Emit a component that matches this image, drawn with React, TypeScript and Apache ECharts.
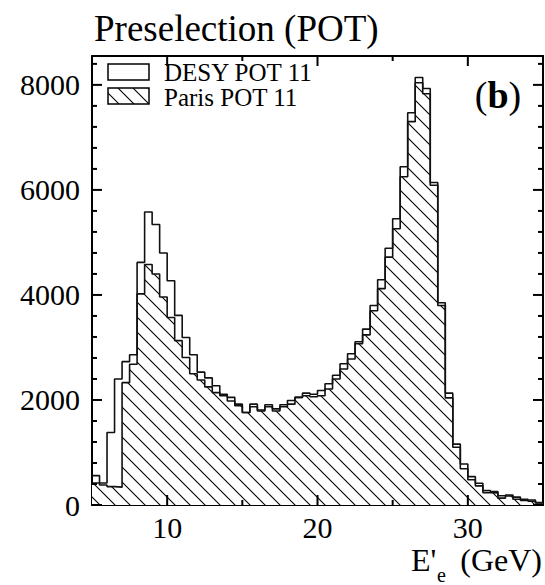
import React, { useEffect, useRef } from "react";
import * as echarts from "echarts";

const BIN_START = 5;
const BIN_WIDTH = 0.5;
const X_MIN = 5;
const X_MAX = 35;
const Y_MIN = 0;
const Y_MAX = 8550;

const desyCounts = [
  560, 420, 1380, 2400, 2730, 2860, 4620, 5580, 5340, 4800,
  4270, 3610, 3190, 2860, 2530, 2420, 2270, 2110, 2050, 1920,
  1760, 1920, 1810, 1910, 1830, 1910, 1990, 2050, 2130, 2110,
  2180, 2310, 2470, 2690, 2880, 3110, 3350, 3800, 4290, 4890,
  5450, 6440, 7470, 8140, 7930, 6140, 3850, 2130, 1160, 780,
  540, 415, 275, 255, 175, 190, 150, 110, 95, 45,
];

const parisCounts = [
  420, 380, 350, 340, 2330, 2680, 4020, 4580, 4400, 3960,
  3570, 3130, 2810, 2500, 2380, 2250, 2140, 2080, 1980, 1890,
  1760, 1870, 1790, 1870, 1790, 1870, 1920, 2050, 2080, 2060,
  2080, 2210, 2400, 2590, 2780, 3070, 3240, 3700, 4120, 4720,
  5260, 6250, 7300, 8040, 7830, 6090, 3800, 2040, 1100, 690,
  480, 365, 236, 230, 130, 172, 110, 85, 70, 40,
];

const xLabelTicks = [10, 20, 30];
const xMinorTicks = [15, 25];
const yLabelTicks = [0, 2000, 4000, 6000, 8000];
const yMinorTicks = [400, 800, 1200, 1600, 2400, 2800, 3200, 3600, 4400, 4800, 5200, 5600, 6400, 6800, 7200, 7600, 8400];
const Y_LABEL_STEP = 2000;
const seriesNames = ["DESY POT 11", "Paris POT 11"];
const titleText = "Preselection (POT)";
const panelLabel = "b";

const FONT = "Liberation Serif";
const MAJOR_LEN = 10;
const MINOR_LEN = 5;

function stepPoints(counts: number[]) {
  const pts: number[][] = [];
  counts.forEach((v, i) => {
    const x0 = BIN_START + i * BIN_WIDTH;
    pts.push([x0, v], [x0 + BIN_WIDTH, v]);
  });
  return pts;
}

function makeHatch() {
  const s = 15;
  const c = document.createElement("canvas");
  c.width = s;
  c.height = s;
  const ctx = c.getContext("2d")!;
  ctx.fillStyle = "#fff";
  ctx.fillRect(0, 0, s, s);
  ctx.strokeStyle = "#000";
  ctx.lineWidth = 1.1;
  ctx.beginPath();
  for (const k of [-1, 0, 1]) {
    ctx.moveTo(-2, -2 + k * s);
    ctx.lineTo(s + 2, s + 2 + k * s);
  }
  ctx.stroke();
  return { image: c, repeat: "repeat", imageWidth: s, imageHeight: s } as any;
}

export default function App() {
  const ref = useRef<HTMLDivElement>(null);
  useEffect(() => {
    if (!ref.current) return;
    const chart = echarts.init(ref.current, undefined, { renderer: "svg" });
    const hatch = makeHatch();
    const hatch2 = makeHatch();

    const lineStyle = { color: "#000", width: 2 };

    const xBase = {
      type: "value",
      min: X_MIN,
      max: X_MAX,
      axisLine: { show: true, onZero: false, lineStyle },
      axisTick: { show: false },
      splitLine: { show: false },
    };
    const yBase = {
      type: "value",
      min: Y_MIN,
      max: Y_MAX,
      interval: Y_LABEL_STEP,
      axisLine: { show: true, onZero: false, lineStyle },
      axisTick: { show: false },
      splitLine: { show: false },
    };

    const xTickData = [
      ...xLabelTicks.map((v) => [v, Y_MIN, MAJOR_LEN]),
      ...xMinorTicks.map((v) => [v, Y_MIN, MINOR_LEN]),
    ];
    const yTickData = [
      ...yLabelTicks.map((v) => [X_MIN, v, MAJOR_LEN]),
      ...yMinorTicks.map((v) => [X_MIN, v, MINOR_LEN]),
    ];

    const tickEl = (x1: number, y1: number, x2: number, y2: number) => ({
      type: "line",
      shape: { x1, y1, x2, y2 },
      style: { stroke: "#000", lineWidth: 2 },
    });

    chart.setOption({
      animation: false,
      backgroundColor: "#fff",
      grid: {
        show: false,
        left: 92,
        right: 2,
        top: 56,
        bottom: 80,
      },
      xAxis: [
        {
          ...xBase,
          position: "bottom",
          axisLabel: {
            customValues: xLabelTicks,
            color: "#000",
            fontFamily: FONT,
            fontSize: 30,
            margin: 7,
          },
        },
        {
          ...xBase,
          position: "top",
          axisLabel: { show: false },
        },
      ],
      yAxis: [
        {
          ...yBase,
          position: "left",
          axisLabel: {
            formatter: (v: number) => (v % Y_LABEL_STEP === 0 ? String(v) : ""),
            color: "#000",
            fontFamily: FONT,
            fontSize: 30,
            margin: 12,
          },
        },
        {
          ...yBase,
          position: "right",
          axisLabel: { show: false },
        },
      ],
      series: [
        {
          name: seriesNames[1],
          type: "line",
          xAxisIndex: 0,
          yAxisIndex: 0,
          data: stepPoints(parisCounts),
          showSymbol: false,
          symbol: "none",
          lineStyle: { color: "#111", width: 1.6 },
          areaStyle: { color: hatch, opacity: 1 },
          z: 2,
        },
        {
          name: seriesNames[0],
          type: "line",
          xAxisIndex: 0,
          yAxisIndex: 0,
          data: stepPoints(desyCounts),
          showSymbol: false,
          symbol: "none",
          lineStyle: { color: "#111", width: 1.6 },
          z: 3,
        },
        {
          name: "xTicks",
          type: "custom",
          coordinateSystem: "cartesian2d",
          xAxisIndex: 0,
          yAxisIndex: 0,
          clip: false,
          silent: true,
          z: 20,
          encode: { x: 0, y: 1 },
          data: xTickData,
          renderItem: (params: any, api: any) => {
            const x = api.value(0);
            const len = api.value(2);
            const pb = api.coord([x, Y_MIN]);
            const pt = api.coord([x, Y_MAX]);
            return {
              type: "group",
              children: [
                tickEl(pb[0], pb[1], pb[0], pb[1] - len),
                tickEl(pt[0], pt[1], pt[0], pt[1] + len),
              ],
            };
          },
        },
        {
          name: "yTicks",
          type: "custom",
          coordinateSystem: "cartesian2d",
          xAxisIndex: 0,
          yAxisIndex: 0,
          clip: false,
          silent: true,
          z: 20,
          encode: { x: 0, y: 1 },
          data: yTickData,
          renderItem: (params: any, api: any) => {
            const y = api.value(1);
            const len = api.value(2);
            const pl = api.coord([X_MIN, y]);
            const pr = api.coord([X_MAX, y]);
            return {
              type: "group",
              children: [
                tickEl(pl[0], pl[1], pl[0] + len, pl[1]),
                tickEl(pr[0], pr[1], pr[0] - len, pr[1]),
              ],
            };
          },
        },
      ],
      graphic: [
        {
          type: "text",
          left: 94,
          top: 10,
          style: { text: titleText, fontFamily: FONT, fontSize: 37, fill: "#000" },
        },
        {
          type: "rect",
          shape: { x: 108, y: 64, width: 41, height: 16 },
          style: { fill: "#fff", stroke: "#000", lineWidth: 1.5 },
          z: 10,
        },
        {
          type: "text",
          x: 164,
          y: 72,
          style: {
            text: seriesNames[0],
            fontFamily: FONT,
            fontSize: 25,
            lineHeight: 22,
            fill: "#000",
            textVerticalAlign: "middle",
          },
          z: 10,
        },
        {
          type: "rect",
          shape: { x: 108, y: 88, width: 41, height: 16 },
          style: { fill: hatch2, stroke: "#000", lineWidth: 1.5 },
          z: 10,
        },
        {
          type: "text",
          x: 164,
          y: 97,
          style: {
            text: seriesNames[1],
            fontFamily: FONT,
            fontSize: 25,
            lineHeight: 22,
            fill: "#000",
            textVerticalAlign: "middle",
          },
          z: 10,
        },
        {
          type: "text",
          x: 498,
          y: 95,
          style: {
            text: "{p|(}{b|" + panelLabel + "}{p|)}",
            textAlign: "center",
            textVerticalAlign: "middle",
            rich: {
              p: { fontFamily: FONT, fontSize: 38, fill: "#000" },
              b: { fontFamily: FONT, fontSize: 38, fontWeight: "bold", fill: "#000" },
            },
          },
          z: 10,
        },
        {
          type: "text",
          x: 411,
          y: 560,
          style: { text: "E'", fontFamily: FONT, fontSize: 32, fill: "#000", textVerticalAlign: "middle" },
        },
        {
          type: "text",
          x: 437,
          y: 575,
          style: { text: "e", fontFamily: FONT, fontSize: 20, fill: "#000", textVerticalAlign: "middle" },
        },
        {
          type: "text",
          x: 542,
          y: 560,
          style: {
            text: "(GeV)",
            fontFamily: FONT,
            fontSize: 32,
            fill: "#000",
            textAlign: "right",
            textVerticalAlign: "middle",
          },
        },
      ],
    });
    return () => chart.dispose();
  }, []);
  return (
    <div
      ref={ref}
      style={{ position: "fixed", left: 0, top: 0, width: 545, height: 585, background: "#fff" }}
    />
  );
}
